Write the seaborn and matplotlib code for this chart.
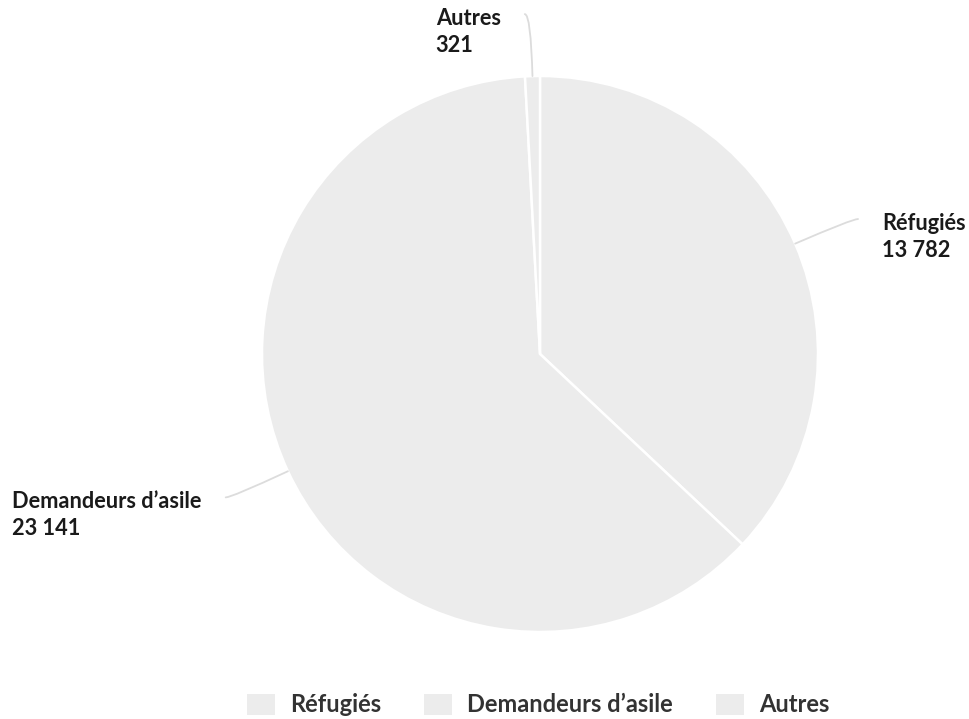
import numpy as np
import matplotlib
matplotlib.use("Agg")
import matplotlib.pyplot as plt
import seaborn as sns

# data
categories = ["Réfugiés", "Demandeurs d’asile", "Autres"]
values = [13782, 23141, 321]
value_labels = ["13 782", "23 141", "321"]

W, H = 969, 719
sns.set_theme(style="white")
plt.rcParams["font.family"] = ["Lato", "DejaVu Sans"]

fig = plt.figure(figsize=(W / 100, H / 100), dpi=100)
ax = fig.add_axes([0, 0, 1, 1])

cx, cy, r = 540, H - 354, 278
wedges, _ = ax.pie(values, startangle=90, counterclock=False, center=(cx, cy), radius=r,
                   colors=["#ececec"] * 3, wedgeprops=dict(edgecolor="white", linewidth=1.8))
ax.set_xlim(0, W)
ax.set_ylim(0, H)
ax.set_aspect("equal")
ax.axis("off")

# labels with leader lines
for w, cat, vl in zip(wedges, categories, value_labels):
    mid = np.deg2rad((w.theta1 + w.theta2) / 2)
    px, py = cx + r * np.cos(mid), cy + r * np.sin(mid)
    side = 1 if np.cos(mid) > 0.02 else -1
    ex = cx + 340 * np.cos(mid) + side * 6
    ey = cy + 340 * np.sin(mid)
    ax.annotate("", xy=(px, py), xytext=(ex, ey),
                arrowprops=dict(arrowstyle="-", color="#dcdcdc", lw=1.3, shrinkA=0, shrinkB=0,
                                connectionstyle=f"angle3,angleA=0,angleB={np.rad2deg(mid):.2f}"))
    ax.text(ex + side * 24, ey - 18, f"{cat}\n{vl}", ha="left" if side > 0 else "right",
            multialignment="left", va="center", linespacing=1.36,
            fontsize=15.7, fontweight="bold", color="#1a1a1a")

handles = [plt.Rectangle((0, 0), 1, 1, facecolor="#ececec", edgecolor="none") for _ in categories]
leg = fig.legend(handles, categories, loc="center", bbox_to_anchor=(538 / W, 1 - 705 / H), ncol=3,
                 frameon=False, handlelength=1.19, handleheight=0.97,
                 handletextpad=0.64, columnspacing=1.82, prop=dict(weight="bold", size=17))
for t in leg.get_texts():
    t.set_color("#333333")

fig.savefig("out.png", dpi=100)
